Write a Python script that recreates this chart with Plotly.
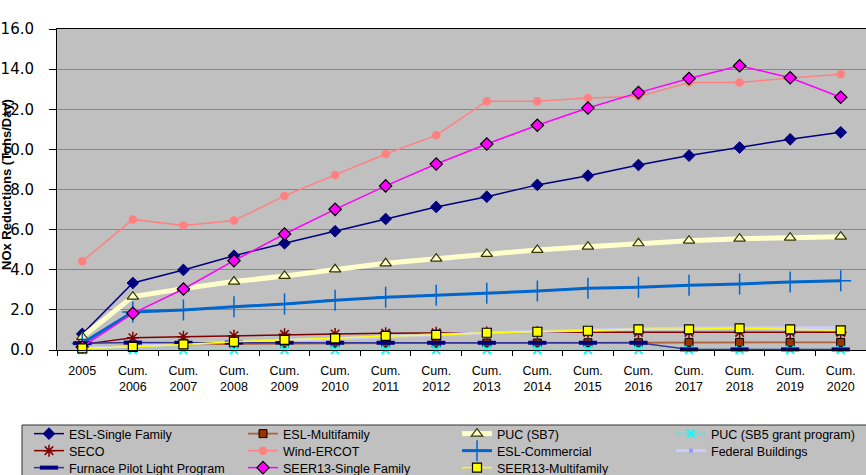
import plotly.graph_objects as go

# Category labels along the x axis
years = ["2005", "Cum.<br>2006", "Cum.<br>2007", "Cum.<br>2008", "Cum.<br>2009",
         "Cum.<br>2010", "Cum.<br>2011", "Cum.<br>2012", "Cum.<br>2013",
         "Cum.<br>2014", "Cum.<br>2015", "Cum.<br>2016", "Cum.<br>2017",
         "Cum.<br>2018", "Cum.<br>2019", "Cum.<br>2020"]

# Series values (tons/day)
esl_single_family = [0.80, 3.34, 3.99, 4.70, 5.32, 5.92, 6.53, 7.13, 7.64, 8.23, 8.69, 9.22, 9.69, 10.09, 10.50, 10.85]
esl_multifamily = [0.10, 0.25, 0.28, 0.30, 0.33, 0.34, 0.34, 0.34, 0.35, 0.35, 0.36, 0.36, 0.38, 0.38, 0.38, 0.38]
puc_sb7 = [0.65, 2.66, 3.06, 3.41, 3.69, 4.02, 4.32, 4.55, 4.79, 4.99, 5.15, 5.32, 5.45, 5.55, 5.60, 5.65]
puc_sb5 = [0.0] * 16
seco = [0.28, 0.61, 0.66, 0.71, 0.78, 0.80, 0.84, 0.86, 0.87, 0.88, 0.88, 0.88, 0.88, 0.88, 0.88, 0.88]
wind_ercot = [4.42, 6.51, 6.21, 6.45, 7.68, 8.72, 9.77, 10.70, 12.40, 12.40, 12.56, 12.63, 13.33, 13.33, 13.56, 13.74]
esl_commercial = [0.33, 1.89, 1.99, 2.16, 2.29, 2.48, 2.63, 2.73, 2.83, 2.94, 3.08, 3.13, 3.23, 3.29, 3.39, 3.45]
federal_buildings = [0.10, 0.20, 0.30, 0.40, 0.50, 0.56, 0.66, 0.76, 0.86, 0.92, 1.00, 1.05, 1.10, 1.11, 1.11, 1.11]
furnace_pilot = [0.34, 0.37, 0.36, 0.37, 0.37, 0.36, 0.36, 0.36, 0.36, 0.36, 0.36, 0.36, 0.03, 0.03, 0.03, 0.03]
seer13_single = [0.15, 1.83, 3.04, 4.45, 5.78, 7.01, 8.18, 9.27, 10.27, 11.20, 12.06, 12.83, 13.53, 14.17, 13.57, 12.60]
seer13_multi = [0.08, 0.16, 0.28, 0.41, 0.50, 0.58, 0.70, 0.75, 0.86, 0.91, 0.96, 1.03, 1.03, 1.08, 1.03, 0.98]

y_ticks = [0, 2, 4, 6, 8, 10, 12, 14, 16]

# name, values, line color, line width, marker symbol, marker size, fill, outline, outline width
series = [
    ("ESL-Single Family", esl_single_family, "#000080", 1.5, "diamond", 9, "#000080", "#000080", 1),
    ("ESL-Multifamily", esl_multifamily, "#B0603A", 1.8, "square", 8, "#993300", "#000000", 1),
    ("PUC (SB7)", puc_sb7, "#FFFFCC", 5, "triangle-up", 10, "#FFFFCC", "#333300", 1.2),
    ("PUC (SB5 grant program)", puc_sb5, "#99CCCC", 3, "x-thin", 8, "#00FFFF", "#00FFFF", 2),
    ("SECO", seco, "#800000", 1.5, "asterisk", 10, "#800000", "#800000", 1.5),
    ("Wind-ERCOT", wind_ercot, "#FF8080", 1.5, "circle", 8.5, "#FF8080", "#FF8080", 0),
    ("ESL-Commercial", esl_commercial, "#0066CC", 3, "cross-thin", 15, "#0066CC", "#0066CC", 1.5),
    ("Federal Buildings", federal_buildings, "#CCCCFF", 3, "square", 4, "#9999FF", "#9999FF", 0),
    ("Furnace Pilot Light Program", furnace_pilot, "#333399", 1.5, "line-ew", 13, "#000080", "#000080", 4),
    ("SEER13-Single Family", seer13_single, "#FF00FF", 1.5, "diamond", 9.5, "#FF00FF", "#000000", 1.2),
    ("SEER13-Multifamily", seer13_multi, "#FFFF00", 1.5, "square", 9, "#FFFF00", "#000000", 1.2),
]

# one horizontal legend per row, four entries per row
legend_ids = ["legend", "legend2", "legend3"]

fig = go.Figure()
for i, (name, vals, lc, lw, sym, ms, mfill, mline, mlw) in enumerate(series):
    fig.add_trace(go.Scatter(
        x=years, y=vals, name=name, mode="lines+markers",
        line=dict(color=lc, width=lw),
        marker=dict(symbol=sym, size=ms, color=mfill,
                    line=dict(color=mline, width=mlw)),
        legend=legend_ids[i // 4],
        cliponaxis=False,
    ))

W, H = 866, 475
ml, mt = 57, 29
plot_w = W - ml
plot_h = 350 - mt


def px_x(p):
    return (p - ml) / plot_w


def px_y(p):
    return (350 - p) / plot_h


legend_font = dict(family="Liberation Sans, Arial", size=12.5, color="#000000")
legend_rows = [434, 451, 468]
legend_common = dict(orientation="h", yanchor="middle", xanchor="left",
                     x=px_x(29), bgcolor="rgba(0,0,0,0)", borderwidth=0,
                     font=legend_font, traceorder="normal",
                     entrywidth=169, entrywidthmode="pixels")

layout_legends = {}
for lid, rowy in zip(legend_ids, legend_rows):
    layout_legends[lid] = dict(y=px_y(rowy), **legend_common)

fig.update_layout(
    width=W, height=H,
    margin=dict(l=ml, r=0, t=mt, b=H - 350, pad=0, autoexpand=False),
    paper_bgcolor="#FFFFFF",
    plot_bgcolor="#C0C0C0",
    font=dict(family="Liberation Sans, Arial", color="#000000"),
    showlegend=True,
    **layout_legends,
    xaxis=dict(
        type="category", categoryorder="array", categoryarray=years,
        range=[-0.5, 15.5], showgrid=False, tickson="boundaries",
        ticks="outside", ticklen=5, tickcolor="#000000", tickwidth=1,
        showline=True, linecolor="#000000", linewidth=1, mirror=True,
        tickfont=dict(family="Liberation Sans, Arial", size=12.5, color="#000000"),
        ticklabelstandoff=9, zeroline=False, automargin=False,
    ),
    yaxis=dict(
        range=[0, 16], tickvals=y_ticks, tickformat=".1f",
        showgrid=True, gridcolor="#868686", gridwidth=1,
        ticks="outside", ticklen=7, tickcolor="#000000", tickwidth=1,
        showline=True, linecolor="#000000", linewidth=1,
        tickfont=dict(family="DejaVu Sans", size=15, color="#000000"),
        ticklabelstandoff=12, zeroline=False, automargin=False,
    ),
    shapes=[
        dict(type="rect", xref="paper", yref="paper",
             x0=px_x(22), x1=px_x(880), y0=px_y(425), y1=px_y(490),
             fillcolor="#C0C0C0", line=dict(color="#333333", width=1),
             layer="below"),
    ],
    annotations=[
        dict(text="<b>NOx Reductions (Tons/Day)</b>", xref="paper", yref="paper",
             x=px_x(6), y=px_y(185), xanchor="center", yanchor="middle",
             textangle=-90, showarrow=False,
             font=dict(family="Liberation Sans, Arial", size=13, color="#000000")),
    ],
)

fig.write_html("out.html")
